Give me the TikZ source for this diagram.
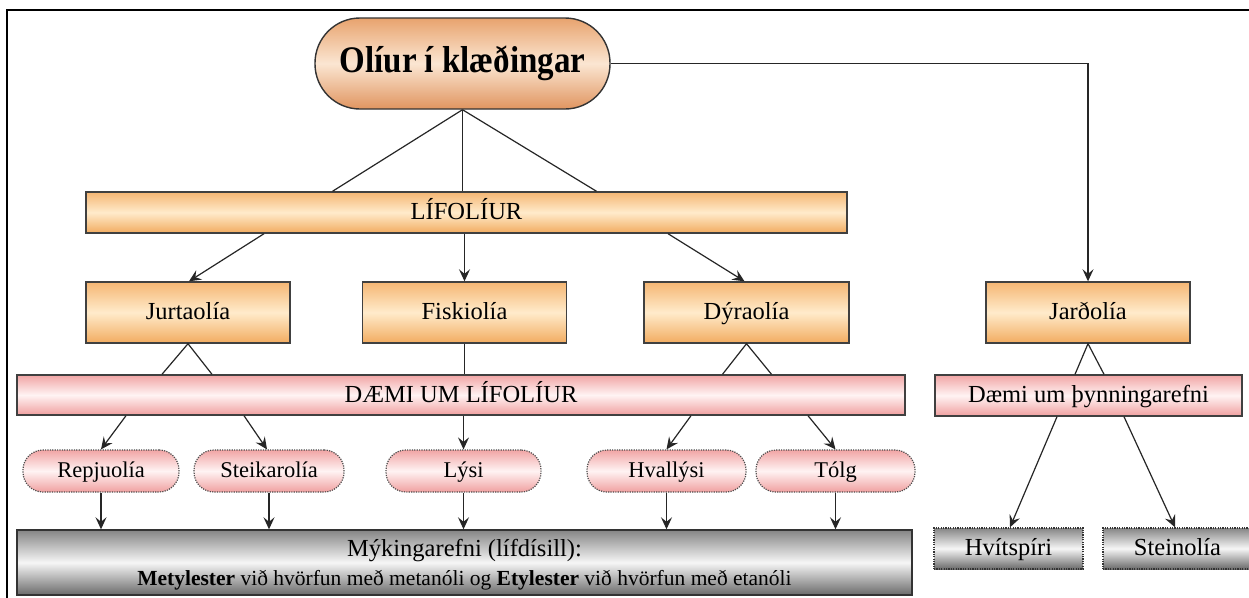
\documentclass[tikz,border=0pt]{standalone}
\usepackage{fontspec}
\setmainfont{Liberation Serif}
\usetikzlibrary{arrows.meta,calc}
\definecolor{orT}{HTML}{F5B673}
\definecolor{orM}{HTML}{FFEBCB}
\definecolor{orB}{HTML}{F2AC60}
\definecolor{rtT}{HTML}{E8A36E}
\definecolor{rtM}{HTML}{FBE6D2}
\definecolor{rtB}{HTML}{E09560}
\definecolor{pkT}{HTML}{F1A5A5}
\definecolor{pkM}{HTML}{FFF3F3}
\definecolor{pkB}{HTML}{F0A0A0}
\definecolor{grT}{HTML}{858585}
\definecolor{grM}{HTML}{F6F6F6}
\definecolor{grB}{HTML}{6A6A6A}
\tikzset{
  ln/.style={line width=1.2pt, draw=black!85},
  arr/.style={ln, -{Stealth[length=12pt,width=11pt,inset=4.5pt]}},
  lbl/.style={font=\fontsize{24.5}{28}\selectfont, text height=17pt, text depth=3pt},
  obox/.style={lbl, draw=black!75, line width=1.4pt, top color=orT, bottom color=orB, middle color=orM, inner sep=0pt},
  pbox/.style={lbl, draw=black!75, line width=1.4pt, top color=pkT, bottom color=pkB, middle color=pkM, inner sep=0pt},
  poval/.style={font=\fontsize{22.5}{26}\selectfont, text height=15.5pt, text depth=2.5pt, draw=black!70, dash pattern=on 1.2pt off 1.2pt, line width=1.2pt, top color=pkT, bottom color=pkB, middle color=pkM, inner sep=0pt, rounded corners=20pt, minimum height=42pt},
  gbox/.style={draw=black!80, line width=1.4pt, top color=grT, bottom color=grB, middle color=grM, inner sep=0pt},
}
\begin{document}
\begin{tikzpicture}[x=1pt,y=-1pt]
\useasboundingbox (0,0) rectangle (1249,597);
\clip (0,0) rectangle (1249,597);
\fill[white] (0,0) rectangle (1249,597);
\draw[line width=2pt] (7,620) -- (7,10) -- (1270,10);

\node[draw=black!80, line width=1.4pt, top color=rtT, bottom color=rtB, middle color=rtM, rounded corners=45pt, minimum width=295pt, minimum height=91pt, inner sep=0pt, font=\fontsize{37.5}{40}\selectfont\bfseries] (root) at (462.5,63.5) {\scalebox{0.88}[1]{Olíur í klæðingar}};

\node[obox, minimum width=761pt, minimum height=41pt] (lif) at (466.5,212.5) {LÍFOLÍUR};

\node[obox, minimum width=204pt, minimum height=61pt] (jurt) at (188,312.5) {Jurtaolía};
\node[obox, minimum width=204pt, minimum height=61pt] (fisk) at (464.5,312.5) {Fiskiolía};
\node[obox, minimum width=205pt, minimum height=61pt] (dyr) at (746.5,312.5) {Dýraolía};
\node[obox, minimum width=204pt, minimum height=61pt] (jard) at (1088,312.5) {Jarðolía};

\node[pbox, minimum width=888pt, minimum height=40pt] (daemi) at (461,395) {DÆMI UM LÍFOLÍUR};
\node[pbox, minimum width=307pt, minimum height=41pt] (thyn) at (1088.5,395.5) {Dæmi um þynningarefni};

\node[poval, minimum width=156pt] (rep) at (101,471) {Repjuolía};
\node[poval, minimum width=150pt] (steik) at (269,471) {Steikarolía};
\node[poval, minimum width=155pt] (lysi) at (463.5,471) {Lýsi};
\node[poval, minimum width=159pt] (hval) at (666.5,471) {Hvallýsi};
\node[poval, minimum width=159pt] (tolg) at (835.5,471) {Tólg};

\node[gbox, minimum width=895pt, minimum height=65pt, align=center, text depth=0pt, font=\fontsize{21.5}{29}\selectfont] (myk) at (464.5,562.5) {{\fontsize{24.5}{29}\selectfont Mýkingarefni (lífdísill):}\\\textbf{Metylester} við hvörfun með metanóli og \textbf{Etylester} við hvörfun með etanóli};

\node[gbox, dash pattern=on 1.2pt off 1.2pt, lbl, minimum width=149pt, minimum height=41pt] (hvit) at (1008.5,548.5) {Hvítspíri};
\node[gbox, dash pattern=on 1.2pt off 1.2pt, lbl, minimum width=149pt, minimum height=41pt] (stein) at (1177.5,548.5) {Steinolía};

% connectors
\draw[arr] (root.east) -| (jard.north);
\draw[ln] (root.south) -- (root.south |- lif.north);
\draw[ln] (root.south) -- ($(root.south |- lif.north)+(-130,0)$);
\draw[ln] (root.south) -- ($(root.south |- lif.north)+(134,0)$);

\draw[arr] ($(lif.south)+(-202.5,0)$) -- ($(jurt.north)+(1,0)$);
\draw[arr] (fisk.north |- lif.south) -- (fisk.north);
\draw[arr] ($(lif.south)+(201.5,0)$) -- ($(dyr.north)+(-2,0)$);

\draw[ln] ($(jurt.south |- daemi.north)+(-26,0)$) -- (jurt.south) -- ($(jurt.south |- daemi.north)+(24,0)$);
\draw[ln] (fisk.south) -- (fisk.south |- daemi.north);
\draw[ln] ($(dyr.south |- daemi.north)+(-24,0)$) -- (dyr.south) -- ($(dyr.south |- daemi.north)+(25,0)$);
\draw[ln] ($(jard.south |- thyn.north)+(-13,0)$) -- (jard.south) -- ($(jard.south |- thyn.north)+(16,0)$);

\draw[arr] ($(rep.north |- daemi.south)+(25,0)$) -- (rep.north);
\draw[arr] ($(steik.north |- daemi.south)+(-25,0)$) -- ($(steik.north)+(-2,0)$);
\draw[arr] (lysi.north |- daemi.south) -- (lysi.north);
\draw[arr] ($(hval.north |- daemi.south)+(24.5,0)$) -- (hval.north);
\draw[arr] ($(tolg.north |- daemi.south)+(-27.5,0)$) -- (tolg.north);

\foreach \n in {rep,steik,lysi,hval,tolg}
  \draw[arr] (\n.south) -- (\n.south |- myk.north);

\draw[arr] ($(thyn.south)+(-31.5,0)$) -- ($(hvit.north)+(1.5,0)$);
\draw[arr] ($(thyn.south)+(35.5,0)$) -- ($(stein.north)+(-2.5,0)$);
\end{tikzpicture}
\end{document}
